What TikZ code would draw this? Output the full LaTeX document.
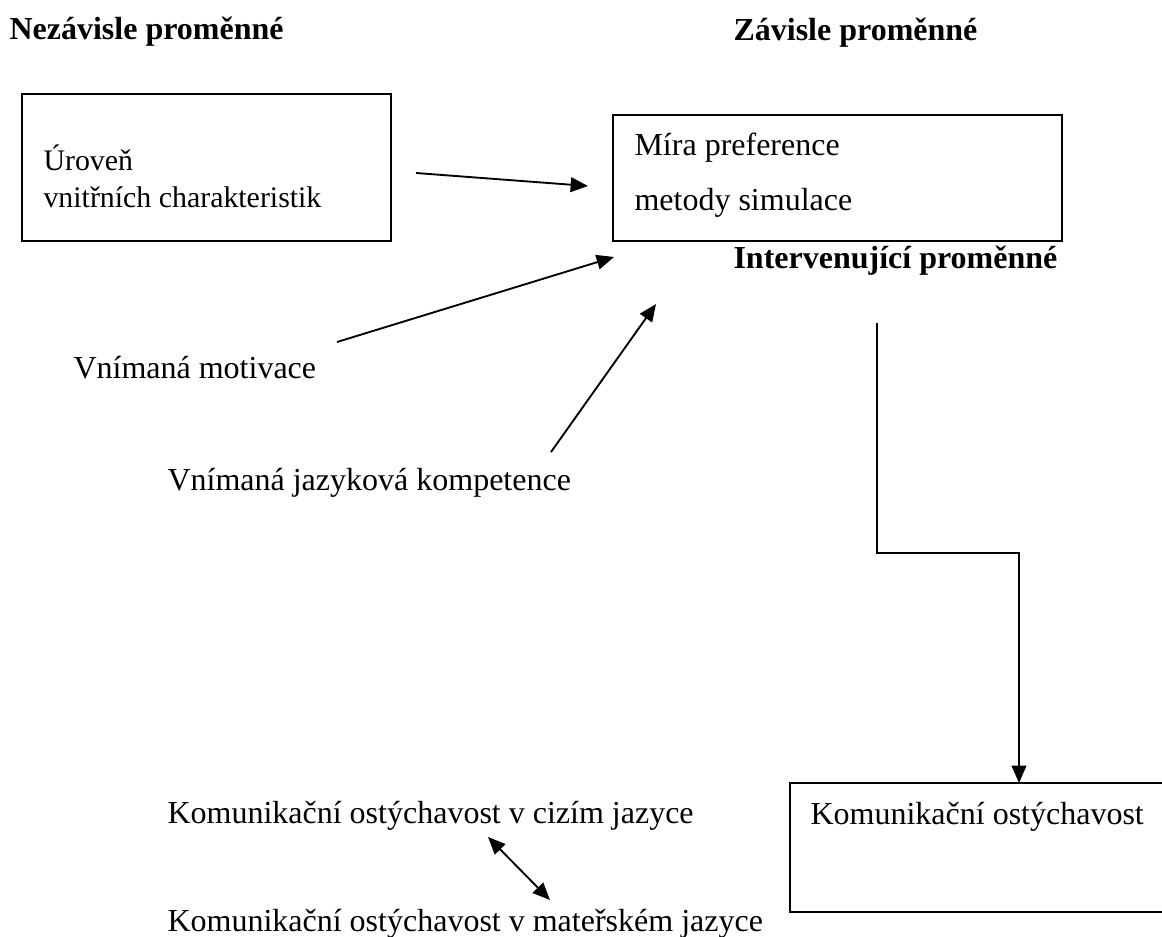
\documentclass[tikz,border=0pt]{standalone}
\usepackage{fontspec}
\setmainfont{Liberation Serif}
\usetikzlibrary{arrows.meta}

\tikzset{
  txt/.style={anchor=base west, inner sep=0pt, font=\fontsize{12}{14}\selectfont},
  boxtxt/.style={txt, font=\fontsize{11.2}{13}\selectfont},
  heading/.style={txt, font=\fontsize{12}{14}\selectfont\bfseries},
  box/.style={line width=0.75pt},
  tip/.tip={Triangle[length=6.5pt,width=5.5pt]},
  link/.style={line width=0.7pt, -tip},
  dlink/.style={line width=0.7pt, tip-tip},
}

\begin{document}
\begin{tikzpicture}[x=0.375pt,y=-0.375pt]
        \clip (0,0) rectangle (1162,936);

        % Nadpisy
        \node[heading] (nez) at (9,39) {Nezávisle proměnné};
        \node[heading] (zav) at (733,40) {Závisle proměnné};
        \node[heading] (int) at (733,268) {Intervenující proměnné};

        % Rámečky
        \draw[box] (22,94) rectangle (391,241);
        \node[boxtxt] (urov) at (43,170) {Úroveň};
        \node[boxtxt] (vnit) at (43,207) {vnitřních charakteristik};

        \draw[box] (613,115) rectangle (1062,241);
        \node[txt] (mira) at (634,155) {Míra preference};
        \node[txt] (meto) at (634,210) {metody simulace};

        \draw[box] (790,783) rectangle (1175,912);
        \node[txt] (kom) at (810,824) {Komunikační ostýchavost};

        % Volné popisky
        \node[txt] (mot) at (73,378) {Vnímaná motivace};
        \node[txt] (jaz) at (167,490) {Vnímaná jazyková kompetence};
        \node[txt] (ciz) at (167,823) {Komunikační ostýchavost v cizím jazyce};
        \node[txt] (mat) at (167,931) {Komunikační ostýchavost v mateřském jazyce};

        % Konce šipek
        \coordinate (urov-out) at (416,173);
        \coordinate (mira-in1) at (588,186);
        \coordinate (mot-out) at (337,342);
        \coordinate (mira-in2) at (614,257);
        \coordinate (jaz-out) at (551,452);
        \coordinate (mira-in3) at (656,304);
        \coordinate (int-out) at (877,323);
        \coordinate (kom-in) at (1019,783);
        \coordinate (ciz-in) at (488,837);
        \coordinate (mat-in) at (550,900);

        % Šipky
        \draw[link] (urov-out) -- (mira-in1);
        \draw[link] (mot-out) -- (mira-in2);
        \draw[link] (jaz-out) -- (mira-in3);
        \draw[link] (int-out) |- (1019,553) -- (kom-in);
        \draw[dlink] (ciz-in) -- (mat-in);
      \end{tikzpicture}
\end{document}
